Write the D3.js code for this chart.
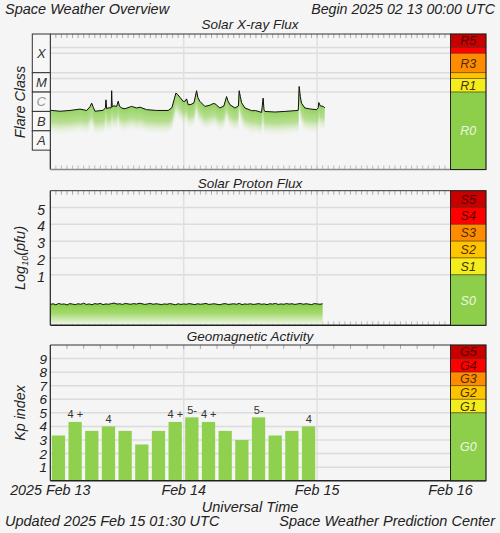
<!DOCTYPE html>
<html><head><meta charset="utf-8">
<script src="https://cdn.jsdelivr.net/npm/d3@7"></script>
<style>
html,body{margin:0;padding:0;background:#f5f5f5;}
svg{display:block;}
text{font-family:"Liberation Sans",Arial,sans-serif;}
</style></head>
<body>
<svg id="c" width="500" height="533"></svg>
<script>
// ---------------- DATA ----------------
const dayLabels = ["2025 Feb 13", "Feb 14", "Feb 15", "Feb 16"];
const dayHours = [0, 24, 48, 72];

// GOES X-ray flux (log10 W/m^2), hours since 2025-02-13 00:00 UTC
const xrayHours = [0,1.74,3.54,5.34,6.54,7.14,7.44,7.77,8.04,9.53,9.92,10.01,10.14,10.37,10.97,11.04,11.13,11.45,11.94,12.22,12.44,12.89,13.43,14.63,15.53,16.13,17.33,19.13,21.21,21.88,22.6,22.96,23.32,23.91,24.22,24.52,24.81,25.3,25.84,26.32,26.55,26.91,27.81,28.71,29.25,29.61,30.51,31.23,31.71,31.95,32.31,33.21,33.84,33.98,34.19,34.41,35.0,36.21,36.98,38.01,38.29,38.45,38.6,40.4,42.2,44.0,44.62,44.77,44.98,45.19,45.79,46.69,47.89,48.21,48.3,48.57,49.08,49.39];
const xrayLog10 = [-5.94,-5.99,-5.95,-5.88,-5.95,-5.76,-5.57,-5.81,-5.99,-5.94,-5.81,-5.40,-5.86,-5.82,-5.81,-4.93,-5.76,-5.71,-5.74,-5.47,-5.73,-5.83,-5.86,-5.74,-5.82,-5.78,-5.91,-5.95,-5.95,-5.81,-5.05,-5.14,-5.27,-5.48,-5.48,-5.35,-5.65,-5.64,-5.56,-4.93,-5.29,-5.48,-5.74,-5.68,-5.60,-5.60,-5.82,-5.72,-5.23,-5.45,-5.65,-5.82,-5.72,-4.93,-5.24,-5.55,-5.82,-5.96,-5.96,-6.05,-5.31,-5.92,-6.00,-6.03,-6.00,-5.96,-5.94,-4.71,-5.24,-5.57,-5.82,-5.87,-5.91,-5.81,-5.54,-5.71,-5.74,-5.81];

// GOES >=10 MeV proton flux (log10 pfu), every 30 minutes from 00:00
const protonLog10 = [-0.76,-0.72,-0.78,-0.70,-0.75,-0.73,-0.79,-0.71,-0.74,-0.77,
-0.72,-0.75,-0.69,-0.76,-0.73,-0.78,-0.71,-0.74,-0.70,-0.77,
-0.73,-0.75,-0.71,-0.68,-0.74,-0.72,-0.76,-0.70,-0.73,-0.75,
-0.71,-0.74,-0.69,-0.72,-0.76,-0.73,-0.70,-0.75,-0.72,-0.74,
-0.77,-0.73,-0.75,-0.71,-0.74,-0.78,-0.72,-0.76,-0.73,-0.75,
-0.71,-0.74,-0.77,-0.72,-0.75,-0.73,-0.70,-0.76,-0.74,-0.72,
-0.75,-0.78,-0.73,-0.71,-0.76,-0.74,-0.72,-0.75,-0.70,-0.77,
-0.73,-0.75,-0.72,-0.76,-0.74,-0.71,-0.75,-0.73,-0.77,-0.72,
-0.74,-0.70,-0.76,-0.73,-0.75,-0.71,-0.74,-0.72,-0.76,-0.73,
-0.70,-0.75,-0.72,-0.74,-0.77,-0.71,-0.73,-0.75,-0.72];
const protonStepHours = 0.5;

// Planetary Kp, 3-hour intervals from 2025-02-13 00:00
const kpValues = [3.33,4.33,3.67,4.0,3.67,2.67,3.67,4.33,4.67,4.33,3.67,3.0,4.67,3.33,3.67,4.0];
const kpLabels = ["3+","4+","4-","4","4-","3-","4-","4+","5-","4+","4-","3","5-","3+","4-","4"];

// Flare class bands (log10 W/m^2 lower bound)
const flareClasses = ["X","M","C","B","A"];
const flareLower = [-4,-5,-6,-7,-8];

// NOAA scales
const rLabels = ["R5","R4","R3","R2","R1","R0"];
const rBounds = [-2, Math.log10(2e-3), -3, -4, Math.log10(5e-5), -5, -9]; // top..bottom
const sLabels = ["S5","S4","S3","S2","S1","S0"];
const sBounds = [6,5,4,3,2,1,-2];
const gLabels = ["G5","G4","G3","G2","G1","G0"];
const gBounds = [10,9,8,7,6,5,0];
const scaleColors = ["#c80000","#ff0000","#ff8c00","#ffc400","#f2ee1e","#8dcf4a"];
const scaleShowLabel = {R:[1,0,1,0,1,1], S:[1,1,1,1,1,1], G:[1,1,1,1,1,1]};

const protonTicks = [1,2,3,4,5];
const kpTicks = [1,2,3,4,5,6,7,8,9];

// ---------------- LAYOUT ----------------
const svg = d3.select("#c");
const X0 = 50.3, X1 = 450.5, BX1 = 486;
const x = d3.scaleLinear().domain([0,72]).range([X0,X1]);
const yX = d3.scaleLinear().domain([-9,-2]).range([169.5,34]);
const yP = d3.scaleLinear().domain([-2,6]).range([325.3,190.7]);
const yK = d3.scaleLinear().domain([0,10]).range([480.7,345]);

svg.append("rect").attr("width",500).attr("height",533).attr("fill","#f5f5f5");

const defs = svg.append("defs");
const g1 = defs.append("linearGradient").attr("id","colGrad").attr("x1",0).attr("y1",0).attr("x2",0).attr("y2",1);
g1.append("stop").attr("offset","0").attr("stop-color","#7cc93a").attr("stop-opacity",1);
g1.append("stop").attr("offset","0.45").attr("stop-color","#9ad463").attr("stop-opacity",0.85);
g1.append("stop").attr("offset","1").attr("stop-color","#f5f5f5").attr("stop-opacity",0);

function txt(s, xx, yy, opt={}) {
  return svg.append("text").attr("x",xx).attr("y",yy).text(s)
    .attr("font-size", opt.size||14).attr("font-style", opt.italic===false?"normal":"italic")
    .attr("text-anchor", opt.anchor||"start").attr("fill", opt.fill||"#222");
}

// Header / footer
txt("Space Weather Overview", 5, 14, {size:14.5});
txt("Begin 2025 02 13 00:00 UTC", 495, 14, {size:14.2, anchor:"end"});
txt("Solar X-ray Flux", 250, 28.5, {size:13.5, anchor:"middle"});
txt("Solar Proton Flux", 250, 187.5, {size:13.5, anchor:"middle"});
txt("Geomagnetic Activity", 250, 341, {size:13.5, anchor:"middle"});
txt("Universal Time", 250, 512, {size:14.5, anchor:"middle"});
txt("Updated 2025 Feb 15 01:30 UTC", 5, 526, {size:14.5});
txt("Space Weather Prediction Center", 495, 526, {size:14.5, anchor:"end"});

// x labels
dayLabels.forEach((d,i)=>{ txt(d, x(dayHours[i]), 495, {size:14.3, anchor:"middle"}); });

// rotated y labels
function ylab(s, cy) {
  return svg.append("text").attr("transform",`translate(25,${cy}) rotate(-90)`)
   .attr("text-anchor","middle").attr("font-size",14.3).attr("font-style","italic").attr("fill","#222").text(s);
}
ylab("Flare Class", 102);
const pl = svg.append("text").attr("transform",`translate(25,258) rotate(-90)`)
   .attr("text-anchor","middle").attr("font-size",14.5).attr("font-style","italic").attr("fill","#222");
pl.append("tspan").text("Log");
pl.append("tspan").attr("font-size",9).attr("dy",3).text("10");
pl.append("tspan").attr("dy",-3).text("(pfu)");
ylab("Kp index", 413);

// ---------- panel helper ----------
function panelFrame(y, yTop, yBot, hLines, tickStep, bottomTicks) {
  const g = svg.append("g");
  g.selectAll(".h").data(hLines).join("line")
    .attr("x1",X0).attr("x2",X1).attr("y1",d=>y(d)).attr("y2",d=>y(d))
    .attr("stroke","#dcdcdc").attr("stroke-width",1.5);
  g.selectAll(".v").data([24,48]).join("line")
    .attr("x1",d=>x(d)).attr("x2",d=>x(d)).attr("y1",yTop).attr("y2",yBot)
    .attr("stroke","#e0e0e0").attr("stroke-width",1.5);
  const ticks = d3.range(tickStep, 72, tickStep);
  g.selectAll(".tt").data(ticks).join("line")
    .attr("x1",d=>x(d)).attr("x2",d=>x(d)).attr("y1",yTop).attr("y2",yTop+4)
    .attr("stroke","#aaa").attr("stroke-width",1);
  if (bottomTicks) g.selectAll(".tb").data(ticks).join("line")
    .attr("x1",d=>x(d)).attr("x2",d=>x(d)).attr("y1",yBot-4).attr("y2",yBot)
    .attr("stroke","#bbb").attr("stroke-width",1);
  return g;
}
function panelBorder(yTop, yBot, bottomColor) {
  svg.append("line").attr("x1",X0).attr("x2",X1).attr("y1",yTop).attr("y2",yTop).attr("stroke","#333").attr("stroke-width",1);
  svg.append("line").attr("x1",X0).attr("x2",X0).attr("y1",yTop).attr("y2",yBot).attr("stroke","#222").attr("stroke-width",1.2);
  svg.append("line").attr("x1",X0).attr("x2",BX1).attr("y1",yBot).attr("y2",yBot).attr("stroke",bottomColor).attr("stroke-width",1.5);
}
function scaleBoxes(y, bounds, labels, show) {
  const g = svg.append("g");
  labels.forEach((l,i)=>{
    const y0 = y(bounds[i]), y1 = y(bounds[i+1]);
    g.append("rect").attr("x",X1).attr("y",y0).attr("width",BX1-X1).attr("height",y1-y0)
     .attr("fill",scaleColors[i]).attr("stroke","rgba(60,30,0,0.55)").attr("stroke-width",0.8);
    if (show[i]) g.append("text").attr("x",(X1+BX1)/2).attr("y",(y0+y1)/2+4.5)
      .attr("text-anchor","middle").attr("font-size",12.5).attr("font-style","italic")
      .attr("fill", i===5 ? "#eef6e6" : (i<2 ? "#5a0000" : "#4a3000")).text(l);
  });
  g.append("rect").attr("x",X1).attr("y",y(bounds[0])).attr("width",BX1-X1)
   .attr("height",y(bounds[bounds.length-1])-y(bounds[0])).attr("fill","none").attr("stroke","#222").attr("stroke-width",1);
}

// ---------- X-ray panel ----------
const xTop = yX(-2), xBot = yX(-9);
panelFrame(yX, xTop, xBot, [Math.log10(2e-3),-3,-4,Math.log10(5e-5),-5], 1, true);
const xrPix = xrayHours.map((h,i)=>[x(h), yX(xrayLog10[i])]);
const colsX = [];
for (let i=0;i<xrPix.length-1;i++){
  const [ax,ay]=xrPix[i],[bx,by]=xrPix[i+1];
  for (let px=Math.ceil(ax); px<bx; px+=1){ colsX.push([px, ay+(by-ay)*(px-ax)/(bx-ax)]); }
}
svg.append("g").selectAll("rect").data(colsX).join("rect")
  .attr("x",d=>d[0]-0.5).attr("y",d=>d[1]).attr("width",1.05).attr("height",25).attr("fill","url(#colGrad)");
svg.append("path").datum(xrayHours.map((h,i)=>[h,xrayLog10[i]]))
  .attr("d", d3.line().x(d=>x(d[0])).y(d=>yX(d[1])))
  .attr("fill","none").attr("stroke","#111").attr("stroke-width",1);
panelBorder(xTop, xBot, "#8a8a8a");
flareClasses.forEach((c,i)=>{
  const y0 = yX(flareLower[i] + (i===0?2:1)), y1 = yX(flareLower[i]);
  svg.append("rect").attr("x",32.3).attr("y",y0).attr("width",X0-32.3).attr("height",y1-y0)
    .attr("fill","#f7f7f7").attr("stroke","#333").attr("stroke-width",1);
  svg.append("text").attr("x",(32.3+X0)/2).attr("y",(y0+y1)/2+4.5).attr("text-anchor","middle")
    .attr("font-size",13).attr("font-style","italic").attr("fill", c==="C"?"#999":"#333").text(c);
});
scaleBoxes(yX, rBounds, rLabels, scaleShowLabel.R);

// ---------- Proton panel ----------
const pTop = yP(6), pBot = yP(-2);
panelFrame(yP, pTop, pBot, protonTicks, 1, true);
const pData = protonLog10.map((v,i)=>[i*protonStepHours, v]);
const pg = defs.append("linearGradient").attr("id","pGrad").attr("x1",0).attr("y1",0).attr("x2",0).attr("y2",1);
pg.append("stop").attr("offset","0").attr("stop-color","#84cc40");
pg.append("stop").attr("offset","0.5").attr("stop-color","#a5da72");
pg.append("stop").attr("offset","1").attr("stop-color","#eef6e6");
svg.append("path").datum(pData)
  .attr("d", d3.area().x(d=>x(d[0])).y0(pBot-1).y1(d=>yP(d[1])))
  .attr("fill","url(#pGrad)");
svg.append("path").datum(pData)
  .attr("d", d3.line().x(d=>x(d[0])).y(d=>yP(d[1])))
  .attr("fill","none").attr("stroke","#111").attr("stroke-width",1);
panelBorder(pTop, pBot, "#222");
svg.append("g").selectAll("text").data(protonTicks).join("text")
  .attr("x",45).attr("y",d=>yP(d)+7).attr("text-anchor","end").attr("font-size",14)
  .attr("font-style","italic").attr("fill","#222").text(d=>d);
scaleBoxes(yP, sBounds, sLabels, scaleShowLabel.S);

// ---------- Kp panel ----------
const kTop = yK(10), kBot = yK(0);
panelFrame(yK, kTop, kBot, kpTicks, 3, false);
svg.append("g").selectAll("rect").data(kpValues).join("rect")
  .attr("x",(d,i)=>x(i*3)+1.5).attr("width",(d,i)=>x(i*3+3)-x(i*3)-3.4)
  .attr("y",d=>yK(d)).attr("height",d=>kBot-yK(d)).attr("fill","#8fd14f");
svg.append("g").selectAll("text").data(kpValues.map((v,i)=>({v,i,l:kpLabels[i]})).filter(d=>d.v>=4)).join("text")
  .attr("x",d=>(x(d.i*3)+x(d.i*3+3))/2).attr("y",d=>yK(d.v)-3.5).attr("text-anchor","middle")
  .attr("font-size",11).attr("fill","#333").text(d=>d.l.replace("+"," +"));
panelBorder(kTop, kBot, "#222");
svg.append("g").selectAll("text").data(kpTicks).join("text")
  .attr("x",47).attr("y",d=>yK(d)+5).attr("text-anchor","end").attr("font-size",13.5)
  .attr("font-style","italic").attr("fill","#222").text(d=>d);
scaleBoxes(yK, gBounds, gLabels, scaleShowLabel.G);
</script>
</body></html>
